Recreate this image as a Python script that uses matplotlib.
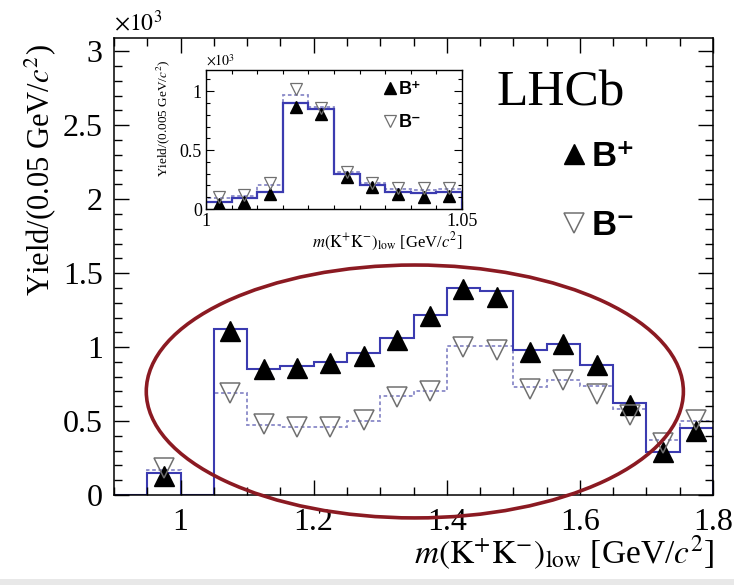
import numpy as np
import matplotlib
matplotlib.use("Agg")
import matplotlib.pyplot as plt
from matplotlib.patches import Ellipse
from matplotlib.ticker import MultipleLocator, FuncFormatter

plt.rcParams["font.family"] = ["Liberation Serif", "DejaVu Serif"]
plt.rcParams["mathtext.fontset"] = "stix"

# ---- main distribution: m(K+K-)_low, 0.05 GeV bins, yields in units of 10^3
edges = np.round(np.arange(0.90, 1.8001, 0.05), 3)
fit_plus = [0.0, 0.15, 0.0, 1.12, 0.85, 0.87, 0.90, 0.96, 1.06, 1.22, 1.40, 1.38,
            0.98, 1.02, 0.88, 0.62, 0.29, 0.45]
fit_minus = [0.0, 0.17, 0.0, 0.69, 0.47, 0.46, 0.46, 0.50, 0.67, 0.70, 1.01, 1.01,
             0.73, 0.78, 0.74, 0.58, 0.37, 0.50]
data_plus = [np.nan, 0.13, np.nan, 1.11, 0.85, 0.86, 0.89, 0.94, 1.05, 1.21, 1.39, 1.34,
             0.97, 1.02, 0.88, 0.61, 0.29, 0.43]
data_minus = [np.nan, 0.18, np.nan, 0.69, 0.48, 0.46, 0.46, 0.51, 0.66, 0.70, 1.00, 0.98,
              0.72, 0.78, 0.68, 0.54, 0.35, 0.51]

# ---- inset: zoom on 1.00-1.05 GeV, 0.005 GeV bins
edges_in = np.round(np.arange(1.000, 1.0501, 0.005), 4)
fit_plus_in = [0.062, 0.096, 0.147, 0.90, 0.853, 0.294, 0.203, 0.147, 0.133, 0.147]
fit_minus_in = [0.09, 0.11, 0.20, 0.97, 0.87, 0.31, 0.22, 0.17, 0.16, 0.17]
data_plus_in = [0.04, 0.06, 0.13, 0.87, 0.81, 0.27, 0.19, 0.13, 0.10, 0.11]
data_minus_in = [0.105, 0.12, 0.22, 1.02, 0.86, 0.31, 0.22, 0.18, 0.18, 0.18]

BLUE = "#3b3bb0"
BLUE_DOT = "#8a8ac8"
OPEN_GREY = "#707070"
RED = "#8b1a22"


def centers(e):
    e = np.asarray(e)
    return 0.5 * (e[1:] + e[:-1])


def fmt(v, pos):
    return "%g" % round(v, 4)


fig = plt.figure(figsize=(7.34, 5.85), dpi=100)
W, H = 734.0, 585.0

# main axes
ax = fig.add_axes([114 / W, 1 - 495 / H, (713 - 114) / W, (495 - 38) / H])
ax.stairs(fit_minus, edges, color=BLUE_DOT, lw=1.3, ls=(0, (2, 1.5)), baseline=0)
ax.stairs(fit_plus, edges, color=BLUE, lw=1.5, baseline=0)
xc = centers(edges)
h_plus, = ax.plot(xc, data_plus, ls="none", marker="^", ms=14, color="black",
                  markeredgecolor="black")
h_minus, = ax.plot(xc, data_minus, ls="none", marker="v", ms=14, markerfacecolor="none",
                   markeredgecolor=OPEN_GREY, markeredgewidth=1.1)
ax.set_xlim(0.9, 1.8)
ax.set_ylim(0, 3.09)
ax.xaxis.set_major_locator(MultipleLocator(0.2))
ax.xaxis.set_minor_locator(MultipleLocator(0.05))
ax.yaxis.set_major_locator(MultipleLocator(0.5))
ax.yaxis.set_minor_locator(MultipleLocator(0.1))
ax.xaxis.set_major_formatter(FuncFormatter(fmt))
ax.yaxis.set_major_formatter(FuncFormatter(fmt))
ax.tick_params(which="both", direction="in", top=True, right=True, width=1.0,
               labelsize=23, colors="black")
ax.tick_params(which="major", length=11)
ax.tick_params(which="minor", length=5.5)
ax.tick_params(axis="x", pad=9)
ax.tick_params(axis="y", pad=8)
for s in ax.spines.values():
    s.set_linewidth(1.1)

fig.text(114 / W, 1 - 36 / H, r"$\times10^{3}$", fontsize=17, ha="left", va="bottom")
fig.text(40 / W, 1 - 44 / H, r"Yield/(0.05 GeV/$c^{2}$)", fontsize=22, rotation=90,
         ha="center", va="top")
fig.text(714 / W, 1 - 572 / H,
         r"$m(\mathrm{K}^{+}\mathrm{K}^{-})_{\mathrm{low}}$ [GeV/$c^{2}$]",
         fontsize=24, ha="right", va="bottom")
fig.text(496 / W, 1 - 106 / H, "LHCb", fontsize=37, ha="left", va="baseline")

ax.legend([h_plus, h_minus], ["B\u207a", "B\u207b"], loc="upper left",
          bbox_to_anchor=(562 / W, 1 - 140 / H), bbox_transform=fig.transFigure,
          frameon=False, handlelength=0.7, handletextpad=0.15, labelspacing=1.05,
          borderpad=0, borderaxespad=0,
          prop={"family": ["Liberation Sans", "DejaVu Sans"], "weight": "bold", "size": 25})

# highlighted region
ell = Ellipse((1.352, 0.70), width=0.807, height=1.71, fill=False, edgecolor=RED,
              lw=2.6, clip_on=False, zorder=5)
ax.add_patch(ell)

# inset
ai = fig.add_axes([206 / W, 1 - 209 / H, (462 - 206) / W, (209 - 70) / H])
ai.stairs(fit_minus_in, edges_in, color=BLUE_DOT, lw=1.3, ls=(0, (2, 1.5)), baseline=0)
ai.stairs(fit_plus_in, edges_in, color=BLUE, lw=1.6, baseline=0)
xi = centers(edges_in)
hi_plus, = ai.plot(xi, data_plus_in, ls="none", marker="^", ms=9, color="black")
hi_minus, = ai.plot(xi, data_minus_in, ls="none", marker="v", ms=9,
                    markerfacecolor="none", markeredgecolor=OPEN_GREY,
                    markeredgewidth=0.9)
ai.set_xlim(1.0, 1.05)
ai.set_ylim(0, 1.18)
ai.set_xticks([1.0, 1.05])
ai.xaxis.set_minor_locator(MultipleLocator(0.005))
ai.yaxis.set_major_locator(MultipleLocator(0.5))
ai.yaxis.set_minor_locator(MultipleLocator(0.1))
ai.xaxis.set_major_formatter(FuncFormatter(fmt))
ai.yaxis.set_major_formatter(FuncFormatter(fmt))
ai.tick_params(which="both", direction="in", top=True, right=True, width=0.8,
               labelsize=13, colors="black")
ai.tick_params(which="major", length=6)
ai.tick_params(which="minor", length=3)
ai.tick_params(axis="x", pad=3)
ai.tick_params(axis="y", pad=3)
for s in ai.spines.values():
    s.set_linewidth(1.0)
fig.text(206 / W, 1 - 69 / H, r"$\times10^{3}$", fontsize=10, ha="left", va="bottom")
fig.text(163 / W, 1 - 60 / H, r"Yield/(0.005 GeV/$c^{2}$)", fontsize=9.5, rotation=90,
         ha="center", va="top")
fig.text(463 / W, 1 - 253 / H,
         r"$m(\mathrm{K}^{+}\mathrm{K}^{-})_{\mathrm{low}}$ [GeV/$c^{2}$]",
         fontsize=12, ha="right", va="bottom")
ai.legend([hi_plus, hi_minus], ["B\u207a", "B\u207b"], loc="upper left",
          bbox_to_anchor=(384 / W, 1 - 81 / H), bbox_transform=fig.transFigure,
          frameon=False, handlelength=0.7, handletextpad=0.1, labelspacing=0.9,
          borderpad=0, borderaxespad=0, markerscale=0.9,
          prop={"family": ["Liberation Sans", "DejaVu Sans"], "weight": "bold", "size": 13})

# faint strip along the lower edge
fig.add_artist(plt.Rectangle((0, 0), 1, 6 / H, transform=fig.transFigure,
                             facecolor="#e8e8e8", edgecolor="none"))

fig.savefig("out.png", dpi=100)
